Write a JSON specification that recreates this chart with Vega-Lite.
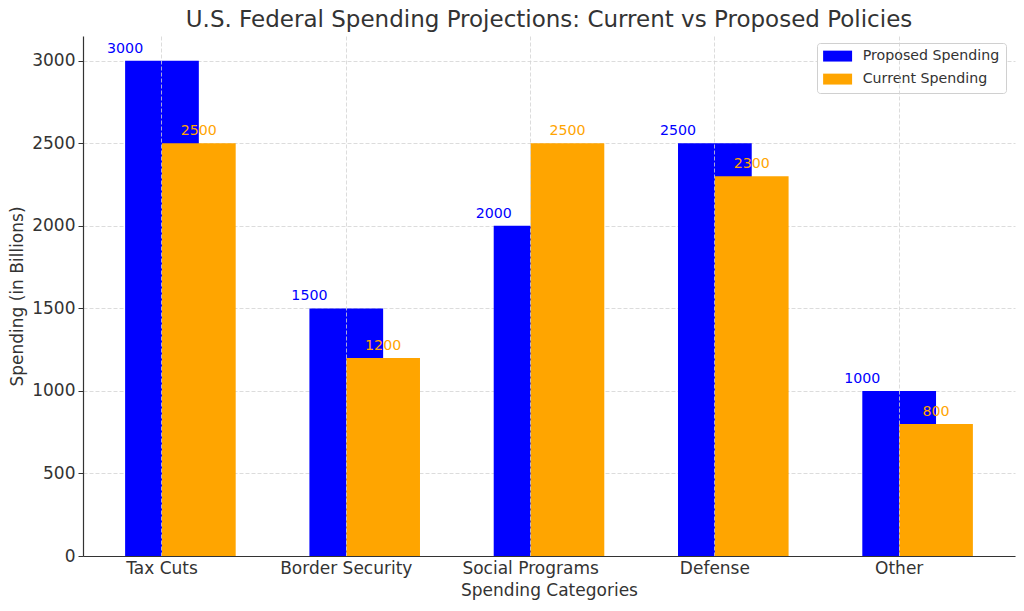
{
  "$schema": "https://vega.github.io/schema/vega-lite/v6.json",
  "width": 932,
  "height": 520,
  "autosize": {"type": "none"},
  "padding": {"left": 83, "top": 36, "right": 9, "bottom": 55},
  "background": "white",
  "config": {
    "view": {"stroke": null},
    "font": "DejaVu Sans",
    "axis": {"labelFont": "DejaVu Sans", "titleFont": "DejaVu Sans", "labelColor": "#333333", "titleColor": "#333333", "titleFontWeight": "normal", "domainColor": "#333333", "tickColor": "#333333", "gridColor": "#d3d3d3", "gridDash": [4, 2], "gridWidth": 0.8}
  },
  "title": {
    "text": "U.S. Federal Spending Projections: Current vs Proposed Policies",
    "fontSize": 23,
    "fontWeight": "normal",
    "color": "#333333",
    "font": "DejaVu Sans",
    "anchor": "middle",
    "baseline": "alphabetic",
    "offset": 6,
    "dy": 20
  },
  "data": {
    "values": [
      {"category": "Tax Cuts", "series": "Proposed Spending", "value": 3000},
      {"category": "Border Security", "series": "Proposed Spending", "value": 1500},
      {"category": "Social Programs", "series": "Proposed Spending", "value": 2000},
      {"category": "Defense", "series": "Proposed Spending", "value": 2500},
      {"category": "Other", "series": "Proposed Spending", "value": 1000},
      {"category": "Tax Cuts", "series": "Current Spending", "value": 2500},
      {"category": "Border Security", "series": "Current Spending", "value": 1200},
      {"category": "Social Programs", "series": "Current Spending", "value": 2500},
      {"category": "Defense", "series": "Current Spending", "value": 2300},
      {"category": "Other", "series": "Current Spending", "value": 800}
    ]
  },
  "encoding": {
    "y": {
      "field": "value",
      "type": "quantitative",
      "scale": {"domain": [0, 3150], "nice": false, "zero": true, "padding": 0},
      "axis": {"title": "Spending (in Billions)", "titleFontSize": 17, "labelFontSize": 17, "format": "d", "values": [0, 500, 1000, 1500, 2000, 2500, 3000], "tickSize": 5, "labelPadding": 3, "titlePadding": 5, "domainWidth": 1.2, "zindex": 0}
    }
  },
  "layer": [
    {
      "transform": [{"filter": "datum.series == 'Proposed Spending'"}],
      "mark": {"type": "bar", "cornerRadius": 0},
      "encoding": {
        "x": {"field": "category", "type": "nominal", "sort": null, "bandPosition": 0,
          "scale": {"paddingInner": 0.4, "paddingOuter": 0.2285},
          "axis": {"title": "Spending Categories", "titleFontSize": 17, "labelFontSize": 17, "labelAngle": 0, "bandPosition": 0.3333, "labelOffset": -18.4, "tickSize": 0, "labelPadding": 4, "titlePadding": 6, "grid": true, "domainWidth": 1.2, "zindex": 1}},
        "x2": {"field": "category", "bandPosition": 0.6667},
        "y2": {"datum": 0},
        "color": {"field": "series", "type": "nominal",
          "scale": {"domain": ["Proposed Spending", "Current Spending"], "range": ["#0000ff", "#ffa500"]},
          "legend": {"title": null, "orient": "none", "legendX": 734, "legendY": 7, "strokeColor": "#d0d0d0", "fillColor": "white", "padding": 6, "cornerRadius": 3, "labelFontSize": 14.2, "labelFont": "DejaVu Sans", "labelColor": "#333333", "labelOffset": 18, "symbolOffset": 7.5, "rowPadding": 8, "symbolType": "M-2.07,-0.78H2.07V0.78H-2.07Z", "symbolSize": 196, "symbolStrokeWidth": 0, "symbolOpacity": 1}
        }
      }
    },
    {
      "transform": [{"filter": "datum.series == 'Current Spending'"}],
      "mark": {"type": "bar"},
      "encoding": {
        "x": {"field": "category", "type": "nominal", "sort": null, "bandPosition": 0.3333},
        "x2": {"field": "category", "bandPosition": 1},
        "y2": {"datum": 0},
        "color": {"field": "series", "type": "nominal"}
      }
    },
    {
      "transform": [{"filter": "datum.series == 'Proposed Spending'"}],
      "mark": {"type": "text", "fontSize": 14.2, "baseline": "alphabetic", "dy": -8, "align": "center", "font": "DejaVu Sans"},
      "encoding": {
        "x": {"field": "category", "type": "nominal", "sort": null, "bandPosition": 0},
        "text": {"field": "value", "type": "quantitative"},
        "color": {"field": "series", "type": "nominal"}
      }
    },
    {
      "transform": [{"filter": "datum.series == 'Current Spending'"}],
      "mark": {"type": "text", "fontSize": 14.2, "baseline": "alphabetic", "dy": -8, "align": "center", "font": "DejaVu Sans"},
      "encoding": {
        "x": {"field": "category", "type": "nominal", "sort": null, "bandPosition": 0.6667},
        "text": {"field": "value", "type": "quantitative"},
        "color": {"field": "series", "type": "nominal"}
      }
    }
  ]
}
